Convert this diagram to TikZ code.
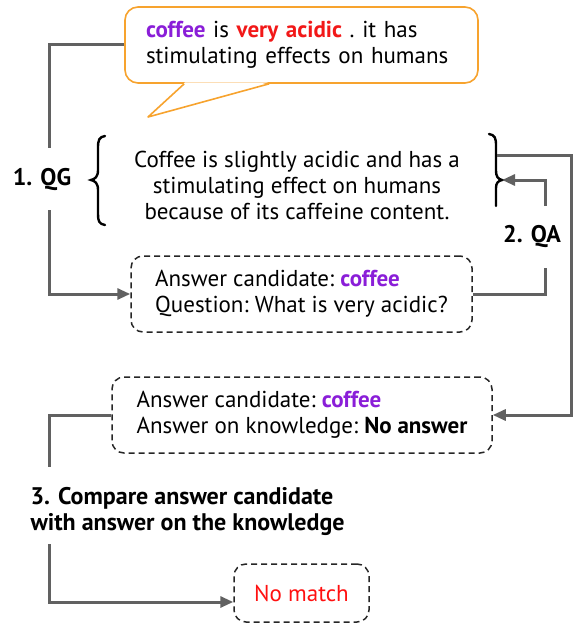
\documentclass[tikz,border=0pt]{standalone}
\usepackage{fontspec}
\setmainfont{PT Sans}
\usepackage{xcolor}
\usetikzlibrary{arrows.meta,calc}
\definecolor{LinkGray}{HTML}{616161}
\definecolor{BoxInk}{HTML}{262626}
\definecolor{BubbleOrange}{HTML}{F7A32E}
\definecolor{EntityPurple}{HTML}{8A1ED8}
\definecolor{SpanRed}{HTML}{F21818}
\definecolor{MatchRed}{HTML}{FF1010}
\newcommand{\Entity}[1]{\textcolor{EntityPurple}{\textbf{#1}}}

\begin{document}
\begin{tikzpicture}[
  x=1pt,y=-1pt,
  font=\fontsize{23}{26}\selectfont\frenchspacing,
  link/.style={draw=LinkGray,line width=3pt},
  linkarrow/.style={link,-{Triangle[length=13pt,width=11pt]}},
  bracket/.style={draw=black,line width=2.4pt,line cap=round},
  dashbox/.style={draw=BoxInk,line width=1.5pt,dash pattern=on 6pt off 4pt,
                  rounded corners=12pt,inner xsep=20pt,align=left},
  bubblebox/.style={draw=BubbleOrange,line width=1.6pt,rounded corners=13pt,
                    fill=white,align=left},
  steplabel/.style={font=\fontsize{24}{26}\selectfont\bfseries,align=left},
]
  \useasboundingbox (0,0) rectangle (574,626);

  \node[bubblebox,minimum width=353pt,minimum height=76pt,inner xsep=21pt,
        text width=311pt] (bubble) at (301.5,45)
    {\Entity{coffee} is \textcolor{SpanRed}{\textbf{very acidic}} . it has\\
     stimulating effects on humans};
  \fill[white] ($(bubble.south west)+(61,-1.5)$) -- (148,117)
    -- ($(bubble.south west)+(144,-1.5)$) -- cycle;
  \draw[draw=BubbleOrange,line width=1.6pt,line join=round]
    ($(bubble.south west)+(60,0)$) -- (148,117) -- ($(bubble.south west)+(145,0)$);

  \node[align=center] (know) at (297,185)
    {Coffee is slightly acidic and has a\\stimulating effect on humans\\
     because of its caffeine content.};
  \draw[bracket] (105,136) .. controls (99,137) and (98,140) .. (98,148) -- (98,170)
    .. controls (98,177) and (95,179) .. (91,180)
    .. controls (95,181) and (98,183) .. (98,190) -- (98,214)
    .. controls (98,221) and (99,224) .. (105,225);
  \draw[bracket] (489,134) .. controls (495,135) and (496,138) .. (496,146) -- (496,170)
    .. controls (496,177) and (498,179) .. (502,180)
    .. controls (498,181) and (496,183) .. (496,188) -- (496,206);

  \node[steplabel] (qg) at (42,180) {1. QG};
  \node[steplabel] (qa) at (532,237) {2. QA};
  \node[steplabel,anchor=west] (compare) at (27,511)
    {3. Compare answer candidate\\with answer on the knowledge};

  \node[dashbox,minimum width=341pt,minimum height=76pt] (cand) at (301.5,294)
    {Answer candidate: \Entity{coffee}\\Question: What is very acidic?};
  \node[dashbox,minimum width=380pt,minimum height=76pt] (check) at (302,415)
    {Answer candidate: \Entity{coffee}\\Answer on knowledge: \textbf{No answer}};
  \node[dashbox,minimum width=135pt,minimum height=58pt,inner xsep=0pt,
        align=center,text=MatchRed] (nomatch) at (301.5,593) {No match};

  \coordinate (qgtop) at (49,148);
  \coordinate (qgbot) at (49,210);
  \coordinate (qalow) at (545,268);
  \coordinate (qahigh) at (545,206);
  \coordinate (rtip) at (502,180);
  \coordinate (rout) at (497,155);
  \coordinate (rturn) at (571,155);
  \coordinate (cmptop) at (49,467);
  \coordinate (cmpbot) at (49,544);

  \draw[link] (bubble.west) -| (qgtop);
  \draw[linkarrow] (qgbot) |- (cand.west);
  \draw[link] (cand.east) -| (qalow);
  \draw[linkarrow] (qahigh) |- (rtip);
  \draw[linkarrow] (rout) -- (rturn) |- (check.east);
  \draw[link] (check.west) -| (cmptop);
  \draw[linkarrow] (cmpbot) |- ([yshift=-9pt]nomatch.west);
\end{tikzpicture}
\end{document}
